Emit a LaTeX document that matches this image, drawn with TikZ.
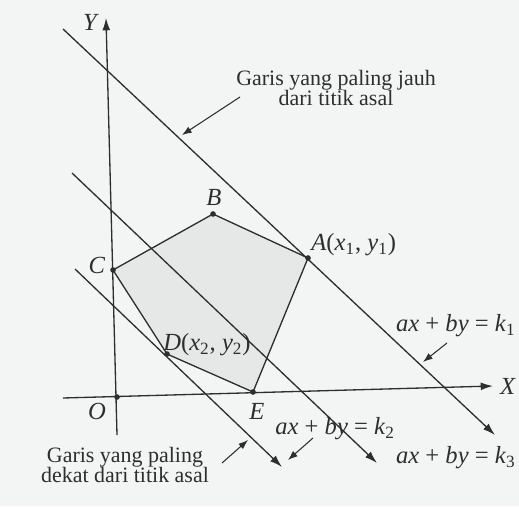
\documentclass[tikz,border=0pt]{standalone}
\usepackage{fontspec}
\setmainfont{Liberation Serif}
\usetikzlibrary{arrows.meta}
\definecolor{bgc}{rgb}{0.95,0.96,0.955}
\definecolor{regc}{rgb}{0.90,0.91,0.905}
\definecolor{inkc}{rgb}{0.18,0.18,0.18}
\newcommand{\iv}[1]{\textit{#1}}
\newcommand{\sbs}[1]{\textsubscript{#1}}
\begin{document}
\begin{tikzpicture}[x=0.02cm,y=-0.02cm,
  ln/.style={draw=inkc,line width=0.75pt},
  axis/.style={ln,-{Latex[length=7pt,width=4.5pt]}},
  kline/.style={ln,-{Latex[length=7pt,width=4.5pt]}},
  note/.style={draw=inkc,line width=0.6pt,-{Latex[length=5.5pt,width=4pt]}},
  vdot/.style={circle,fill=inkc,inner sep=0pt,minimum size=3.2pt},
  lbl/.style={inner sep=0pt,text=inkc,font=\fontsize{14}{14}\selectfont},
  txt/.style={inner sep=0pt,text=inkc,align=center,font=\fontsize{12.5}{11.5}\selectfont}]
\useasboundingbox (0,0) rectangle (519,506);
\fill[bgc] (0,0) rectangle (519,506);
% region vertices
\coordinate (O) at (117,397);
\coordinate (A) at (308,258);
\coordinate (B) at (213,214);
\coordinate (C) at (113,270);
\coordinate (D) at (167,354);
\coordinate (E) at (253,392);
\fill[regc] (A) -- (B) -- (C) -- (D) -- (E) -- cycle;
% axes
\coordinate (ys) at (117,435);
\coordinate (ye) at (106,18);
\coordinate (xs) at (63,398);
\coordinate (xe) at (493,386);
\draw[axis] (ys) -- (ye);
\draw[axis] (xs) -- (xe);
\node[lbl] (Ylab) at (91,22) {\iv{Y}};
\node[lbl] (Xlab) at (508,386) {\iv{X}};
% level lines
\coordinate (f1) at (63,29);
\coordinate (f2) at (495,435);
\coordinate (m1) at (72,173);
\coordinate (m2) at (377,463);
\coordinate (n1) at (75,269);
\coordinate (n2) at (282,467);
\draw[kline] (f1) -- (f2);
\draw[kline] (m1) -- (m2);
\draw[kline] (n1) -- (n2);
% polygon
\draw[ln] (A) -- (B) -- (C) -- (D) -- (E) -- cycle;
\foreach \p in {A,B,C,D,E,O} \node[vdot] at (\p) {};
% vertex labels
\node[lbl] (Bl) at (214,197) {\iv{B}};
\node[lbl,anchor=west] (Al) at (311,245) {\iv{A}(\iv{x}\sbs{1}, \iv{y}\sbs{1})};
\node[lbl] (Cl) at (97,265) {\iv{C}};
\node[lbl,anchor=west] (Dl) at (163,345) {\iv{D}(\iv{x}\sbs{2}, \iv{y}\sbs{2})};
\node[lbl] (El) at (257,411) {\iv{E}};
\node[lbl] (Ol) at (97,411) {\iv{O}};
% annotations
\node[txt] (jauh) at (336,88) {Garis yang paling jauh\\dari titik asal};
\coordinate (j1) at (240,97);
\coordinate (j2) at (182,135);
\draw[note] (j1) -- (j2);
\node[txt] (dekat) at (125,465) {Garis yang paling\\dekat dari titik asal};
\coordinate (d1) at (222,463);
\coordinate (d2) at (248,440);
\draw[note] (d1) -- (d2);
\node[lbl,anchor=east] (k1l) at (516,326) {\iv{ax} + \iv{by} = \iv{k}\sbs{1}};
\coordinate (k1a) at (447,343);
\coordinate (k1b) at (423,362);
\draw[note] (k1a) -- (k1b);
\node[lbl,anchor=west] (k2l) at (275,429) {\iv{ax} + \iv{by} = \iv{k}\sbs{2}};
\coordinate (k2a) at (313,438);
\coordinate (k2b) at (288,460);
\draw[note] (k2a) -- (k2b);
\node[lbl,anchor=east] (k3l) at (516,458) {\iv{ax} + \iv{by} = \iv{k}\sbs{3}};
\end{tikzpicture}
\end{document}
